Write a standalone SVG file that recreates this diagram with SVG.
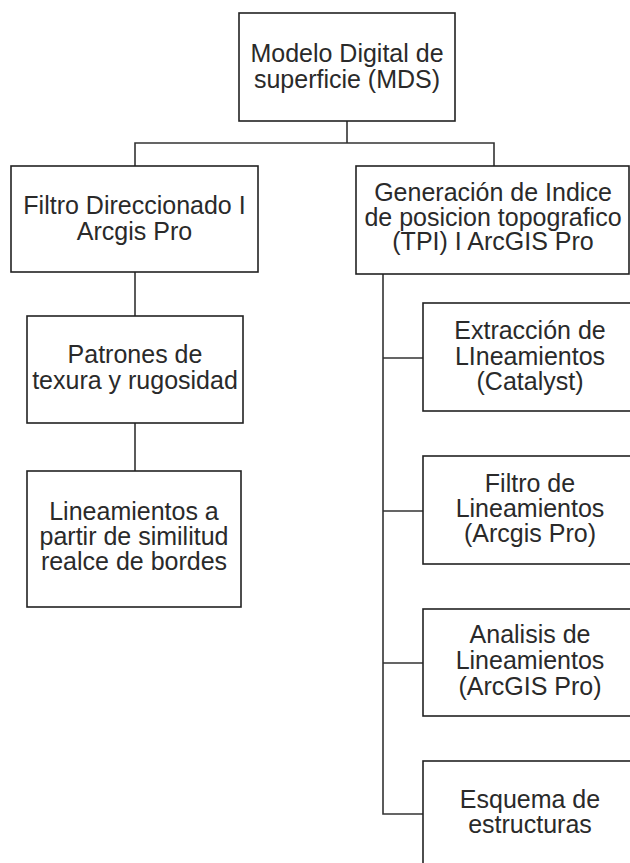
<svg xmlns="http://www.w3.org/2000/svg" width="630" height="863" viewBox="0 0 630 863">
<style>
.box{fill:#fff;stroke:#222;stroke-width:1.6}
.lbl{font-family:"Liberation Sans",Arial,sans-serif;font-size:25px;fill:#2a2a2a;text-anchor:middle}
.con{fill:none;stroke:#333;stroke-width:1.6}
</style>
<rect width="630" height="863" fill="#fff"/>
<g id="connectors">
<path class="con" d="M347 121 V143 M135 166 V143 H494 V166"/>
<path class="con" d="M135 272 V316 M135 423 V471"/>
<path class="con" d="M383 274 V814 H423 M383 358 H423 M383 511 H423 M383 663 H423"/>
</g>
<g id="mds">
<rect class="box" x="239" y="13" width="216" height="108"/>
<text class="lbl" x="347" y="62">Modelo Digital de</text>
<text class="lbl" x="347" y="88">superficie (MDS)</text>
</g>
<g id="filtro-direccionado">
<rect class="box" x="11" y="166" width="247" height="106"/>
<text class="lbl" x="134.5" y="214">Filtro Direccionado I</text>
<text class="lbl" x="134.5" y="240">Arcgis Pro</text>
</g>
<g id="tpi">
<rect class="box" x="356" y="166" width="273" height="108"/>
<text class="lbl" x="493" y="201">Generación de Indice</text>
<text class="lbl" x="493" y="225.5">de posicion topografico</text>
<text class="lbl" x="493" y="250">(TPI) I ArcGIS Pro</text>
</g>
<g id="patrones">
<rect class="box" x="27" y="316" width="216" height="107"/>
<text class="lbl" x="135" y="363">Patrones de</text>
<text class="lbl" x="135" y="389">texura y rugosidad</text>
</g>
<g id="lineamientos-similitud">
<rect class="box" x="27" y="471" width="214" height="136"/>
<text class="lbl" x="134" y="520">Lineamientos a</text>
<text class="lbl" x="134" y="545">partir de similitud</text>
<text class="lbl" x="134" y="570">realce de bordes</text>
</g>
<g id="extraccion">
<rect class="box" x="423" y="303" width="220" height="108"/>
<text class="lbl" x="530" y="339">Extracción de</text>
<text class="lbl" x="530" y="365">LIneamientos</text>
<text class="lbl" x="530" y="390">(Catalyst)</text>
</g>
<g id="filtro-lineamientos">
<rect class="box" x="423" y="456" width="220" height="108"/>
<text class="lbl" x="530" y="492">Filtro de</text>
<text class="lbl" x="530" y="517">Lineamientos</text>
<text class="lbl" x="530" y="542">(Arcgis Pro)</text>
</g>
<g id="analisis">
<rect class="box" x="423" y="609" width="220" height="107"/>
<text class="lbl" x="530" y="643">Analisis de</text>
<text class="lbl" x="530" y="669">Lineamientos</text>
<text class="lbl" x="530" y="695">(ArcGIS Pro)</text>
</g>
<g id="esquema">
<rect class="box" x="423" y="761" width="220" height="108"/>
<text class="lbl" x="530" y="808">Esquema de</text>
<text class="lbl" x="530" y="833">estructuras</text>
</g>
</svg>
